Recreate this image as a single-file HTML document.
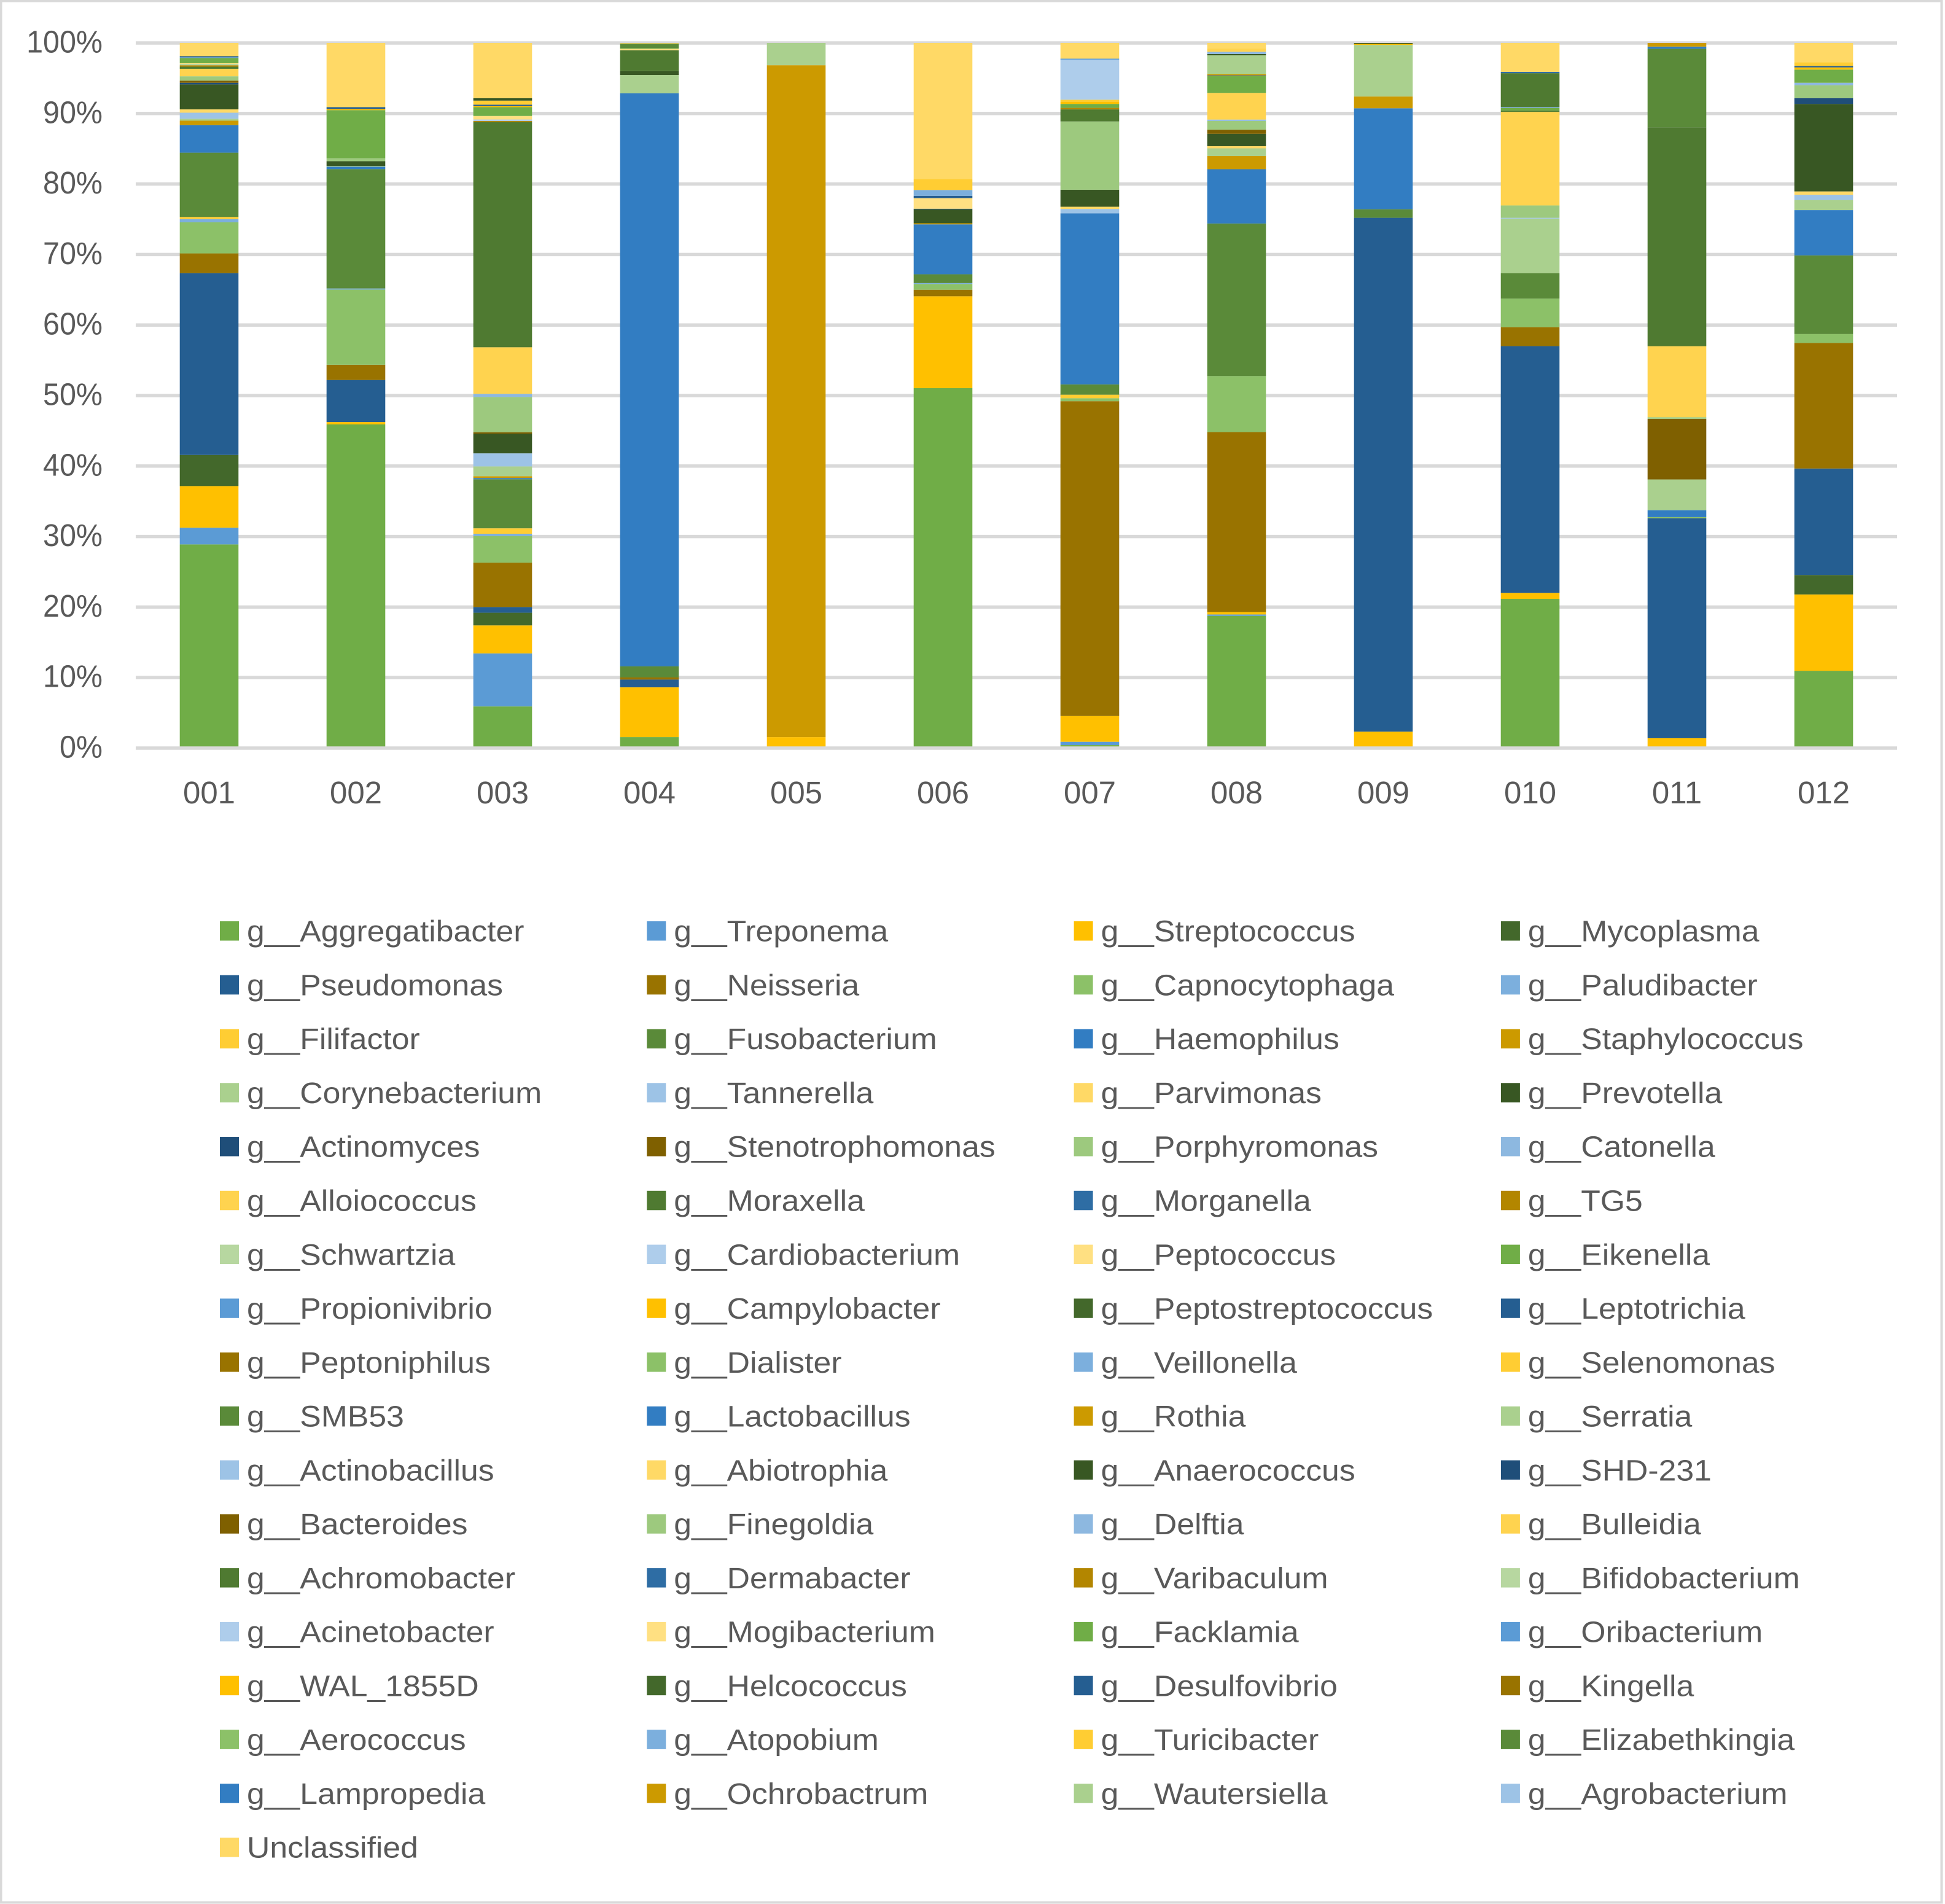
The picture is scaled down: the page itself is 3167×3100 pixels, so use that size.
<!DOCTYPE html>
<html lang="en">
<head>
<meta charset="utf-8">
<title>Genus composition stacked bar chart</title>
<style>
html,body{margin:0;padding:0;background:#fff;}
body{width:3167px;height:3100px;overflow:hidden;}
svg{display:block;}
text{font-family:"Liberation Sans",sans-serif;fill:#595959;}
</style>
</head>
<body>
<svg id="chart" xmlns="http://www.w3.org/2000/svg" width="3167" height="3100" viewBox="0 0 3167 3100">
<rect x="0" y="0" width="3167" height="3100" fill="#ffffff"/>
<rect x="1.5" y="1.5" width="3160" height="3096" fill="none" stroke="#d9d9d9" stroke-width="4"/>
<g id="grid"></g>
<g id="bars"></g>
<g id="axisLine"></g>
<g id="yLabels"></g>
<g id="xLabels"></g>
<g id="legend"></g>
</svg>
<script>
const samples = ["001","002","003","004","005","006","007","008","009","010","011","012"];
const yTicks = [0,10,20,30,40,50,60,70,80,90,100];
const genera = ["g__Aggregatibacter","g__Treponema","g__Streptococcus","g__Mycoplasma","g__Pseudomonas","g__Neisseria","g__Capnocytophaga","g__Paludibacter","g__Filifactor","g__Fusobacterium","g__Haemophilus","g__Staphylococcus","g__Corynebacterium","g__Tannerella","g__Parvimonas","g__Prevotella","g__Actinomyces","g__Stenotrophomonas","g__Porphyromonas","g__Catonella","g__Alloiococcus","g__Moraxella","g__Morganella","g__TG5","g__Schwartzia","g__Cardiobacterium","g__Peptococcus","g__Eikenella","g__Propionivibrio","g__Campylobacter","g__Peptostreptococcus","g__Leptotrichia","g__Peptoniphilus","g__Dialister","g__Veillonella","g__Selenomonas","g__SMB53","g__Lactobacillus","g__Rothia","g__Serratia","g__Actinobacillus","g__Abiotrophia","g__Anaerococcus","g__SHD-231","g__Bacteroides","g__Finegoldia","g__Delftia","g__Bulleidia","g__Achromobacter","g__Dermabacter","g__Varibaculum","g__Bifidobacterium","g__Acinetobacter","g__Mogibacterium","g__Facklamia","g__Oribacterium","g__WAL_1855D","g__Helcococcus","g__Desulfovibrio","g__Kingella","g__Aerococcus","g__Atopobium","g__Turicibacter","g__Elizabethkingia","g__Lampropedia","g__Ochrobactrum","g__Wautersiella","g__Agrobacterium","Unclassified"];
const palette = ["#70AD47","#5B9BD5","#FFC000","#43682B","#255E91","#997300","#8CC168","#7CAFDD","#FFCD33","#5A8A39","#327DC2","#CC9A00","#AAD08E","#9DC3E6","#FFD966","#385723","#1F4E79","#7F6000","#9DC97E","#8DB8E0","#FFD34F","#4F7A31","#2E6DA4","#B38600","#B7D7A0","#AECDEB","#FFE082"];

const vAggregatibacter = [28.84,45.9,5.91,1.56,0,51.05,0.43,18.75,0,21.17,0,10.97];
const vTreponema = [2.36,0,7.52,0,0,0,0.47,0.2,0,0,0,0];
const vStreptococcus = [5.9,0.34,3.97,7.05,1.56,13.03,3.65,0.35,2.33,0.85,1.4,10.82];
const vMycoplasma = [4.4,0,1.8,0,0,0,0,0,0,0,0,2.76];
const vPseudomonas = [25.74,5.96,0.8,1.1,0,0,0,0,72.88,35,31.2,15.1];
const vNeisseria = [2.8,2.16,6.3,0.3,0,0.93,44.67,25.52,0,2.69,0,17.82];
const vCapnocytophaga = [4.4,10.66,3.77,0,0,0.82,0.42,7.94,0,4.05,0.16,1.25];
const vPaludibacter = [0.46,0.16,0.33,0,0,0.12,0,0,0,0,0,0];
const vFilifactor = [0.3,0,0.77,0,0,0,0.5,0,0,0,0,0];
const vFusobacterium = [9.1,16.92,6.96,1.57,0,1.25,1.46,21.64,1.21,3.61,0,11.16];
const vHaemophilus = [3.9,0.35,0.17,81.2,0,7.08,24.28,7.7,14.32,0,0.98,6.42];
const vStaphylococcus = [0.63,0,0.26,0,95.3,0.15,0,1.87,1.67,0,0,0];
const vCorynebacterium = [0.27,0.1,1.39,2.6,3.15,0,0,1.09,7.32,7.75,4.36,1.44];
const vTannerella = [0.86,0,1.85,0,0,0,0.62,0,0,0.1,0,0.74];
const vParvimonas = [0.47,0,0,0,0,0,0.31,0.31,0,0,0,0.47];
const vPrevotella = [3.54,0.68,2.8,0.55,0,1.99,2.41,1.75,0,0,0,12.41];
const vActinomyces = [0.23,0,0,0,0,0.08,0,0,0,0,0,0.82];
const vStenotrophomonas = [0.3,0,0.2,0,0,0,0,0.58,0,0,8.6,0];
const vPorphyromonas = [0.62,0.42,5,0,0,0,9.69,1.25,0,1.76,0.23,1.82];
const vCatonella = [0,0,0.45,0,0,0,0,0.19,0,0,0,0.36];
const vAlloiococcus = [1.06,0,6.6,0,0,0,0,3.78,0,13.27,10.07,0];
const vMoraxella = [0.3,0,31.95,2.95,0,0,1.71,0,0,0.2,31.05,0];
const vMorganella = [0,0,0,0,0,0,0,0,0,0,0,0];
const vTG5 = [0.2,0,0.15,0,0,0,0.22,0,0,0,0,0];
const vSchwartzia = [0.2,0,0,0,0,0,0,0,0,0,0,0];
const vCardiobacterium = [0,0,0.2,0,0,0,0,0,0,0,0,0];
const vPeptococcus = [0.08,0,0.5,0.2,0,1.5,0,0,0,0,0,0];
const vEikenella = [0.75,6.82,1.25,0.1,0,0,0.56,2.38,0,0.35,0,1.87];
const vPropionivibrio = [0.1,0,0,0,0,0,0,0,0,0,0,0];
const vCampylobacter = [0,0.15,0.15,0,0,0,0.31,0,0.15,0,0,0.31];
const vPeptostreptococcus = [0,0,0,0,0,0,0,0,0,0,0,0];
const vLeptotrichia = [0.15,0.27,0.2,0,0,0.33,0,0.1,0,0,0,0.19];
const vPeptoniphilus = [0,0,0,0,0,0,0,0,0,0,0,0];
const vDialister = [0,0,0,0,0,0,0,0,0,0,0,0];
const vVeillonella = [0,0,0,0,0,0.82,0,0,0,0.12,0,0];
const vSelenomonas = [0,0,0.58,0,0,1.55,0.28,0,0,0,0,0.55];
const vSMB53 = [0,0,0,0.65,0,0,0,0,0,0,11.13,0];
const vLactobacillus = [0,0,0,0,0,0,0,0,0,0,0.31,0];
const vRothia = [0,0,0,0,0,0,0,0.16,0,0,0.51,0];
const vSerratia = [0,0,0,0,0,0,0,2.69,0,0,0,0];
const vActinobacillus = [0,0,0,0,0,0,0,0,0,0,0,0];
const vAbiotrophia = [0,0,0,0,0,0,0,0,0,0,0,0];
const vAnaerococcus = [0,0,0.35,0,0,0,0,0.19,0.12,0,0,0];
const vSHD231 = [0,0,0,0,0,0,0,0,0,0,0,0];
const vBacteroides = [0,0,0,0,0,0,0,0,0,0,0,0];
const vFinegoldia = [0,0,0,0,0,0,0,0,0,0,0,0];
const vDelftia = [0,0,0,0,0,0,0,0.31,0,0,0,0];
const vBulleidia = [0,0,0,0,0,0,0,0.47,0,0,0,0];
const vAchromobacter = [0,0,0,0,0,0,0,0,0,4.82,0,0];
const vDermabacter = [0,0,0,0,0,0,0,0,0,0.19,0,0];
const vVaribaculum = [0,0,0,0,0,0,0,0,0,0,0,0];
const vBifidobacterium = [0,0,0,0,0,0,0,0,0,0,0,0];
const vAcinetobacter = [0,0,0,0,0,0,5.68,0,0,0,0,0];
const vMogibacterium = [0,0,0,0,0,0,0,0,0,0,0,0];
const vFacklamia = [0,0,0,0,0,0,0,0,0,0,0,0];
const vOribacterium = [0,0,0,0,0,0,0.15,0,0,0,0,0];
const vWAL1855D = [0,0,0,0,0,0,0,0,0,0,0,0];
const vHelcococcus = [0,0,0,0,0,0,0,0,0,0,0,0];
const vDesulfovibrio = [0,0,0,0,0,0,0,0,0,0,0,0];
const vKingella = [0,0,0,0,0,0,0,0,0,0,0,0];
const vAerococcus = [0,0,0,0,0,0,0,0,0,0,0,0];
const vAtopobium = [0,0,0,0,0,0,0,0,0,0,0,0];
const vTuricibacter = [0,0,0,0,0,0,0,0,0,0,0,0];
const vElizabethkingia = [0,0,0,0,0,0,0,0,0,0,0,0];
const vLampropedia = [0,0,0,0,0,0,0,0,0,0,0,0];
const vOchrobactrum = [0,0,0,0,0,0,0,0,0,0,0,0];
const vWautersiella = [0,0,0,0,0,0,0,0,0,0,0,0];
const vAgrobacterium = [0,0,0,0,0,0,0,0,0,0,0,0];
const vUnclassified = [1.87,9.1,7.82,0.08,0,19.3,2.22,0.78,0,4.09,0,2.72];

const seriesValues = [vAggregatibacter,vTreponema,vStreptococcus,vMycoplasma,vPseudomonas,vNeisseria,vCapnocytophaga,vPaludibacter,vFilifactor,vFusobacterium,vHaemophilus,vStaphylococcus,vCorynebacterium,vTannerella,vParvimonas,vPrevotella,vActinomyces,vStenotrophomonas,vPorphyromonas,vCatonella,vAlloiococcus,vMoraxella,vMorganella,vTG5,vSchwartzia,vCardiobacterium,vPeptococcus,vEikenella,vPropionivibrio,vCampylobacter,vPeptostreptococcus,vLeptotrichia,vPeptoniphilus,vDialister,vVeillonella,vSelenomonas,vSMB53,vLactobacillus,vRothia,vSerratia,vActinobacillus,vAbiotrophia,vAnaerococcus,vSHD231,vBacteroides,vFinegoldia,vDelftia,vBulleidia,vAchromobacter,vDermabacter,vVaribaculum,vBifidobacterium,vAcinetobacter,vMogibacterium,vFacklamia,vOribacterium,vWAL1855D,vHelcococcus,vDesulfovibrio,vKingella,vAerococcus,vAtopobium,vTuricibacter,vElizabethkingia,vLampropedia,vOchrobactrum,vWautersiella,vAgrobacterium,vUnclassified];

const NS = "http://www.w3.org/2000/svg";
const plotLeft = 221, plotRight = 3089, plotTop = 70, plotBottom = 1218;
function yScale(pct){ return plotBottom - (plotBottom - plotTop) * pct / 100; }
const bandWidth = (plotRight - plotLeft) / samples.length;
function xCenter(i){ return plotLeft + bandWidth * (i + 0.5); }
const barWidth = bandWidth / 2.5;
function make(tag, attrs, parent){
  const el = document.createElementNS(NS, tag);
  Object.keys(attrs).forEach(function(k){ el.setAttribute(k, attrs[k]); });
  parent.appendChild(el);
  return el;
}

const gridGroup = document.getElementById("grid");
const axisGroup = document.getElementById("axisLine");
const yGroup = document.getElementById("yLabels");
yTicks.forEach(function(t){
  const line = make("rect", {x: plotLeft, y: yScale(t) - 2.75, width: plotRight - plotLeft, height: 5.5, fill: "#d9d9d9"}, t === 0 ? axisGroup : gridGroup);
  
  
  const label = make("text", {transform: "translate(167," + (yScale(t) + 15.5) + ") scale(0.95,1)", "text-anchor": "end", "font-size": 51}, yGroup);
  label.textContent = t + "%";
  
  
});

const barGroup = document.getElementById("bars");
const xGroup = document.getElementById("xLabels");
samples.forEach(function(name, i){
  const total = seriesValues.reduce(function(s, row){ return s + row[i]; }, 0);
  let cum = 0;
  const col = make("g", {}, barGroup);
  
  
  seriesValues.forEach(function(row, s){
    const v = row[i];
    if (v <= 0) return;
    const lo = cum / total * 100;
    cum += v;
    const hi = cum / total * 100;
    const seg = make("rect", {x: xCenter(i) - barWidth / 2, y: yScale(hi), width: barWidth, height: yScale(lo) - yScale(hi), fill: palette[s % palette.length]}, col);
    
    
  });
  const label = make("text", {x: xCenter(i), y: 1308, "text-anchor": "middle", "font-size": 51}, xGroup);
  label.textContent = name;
  
  
});

const legendGroup = document.getElementById("legend");
const legendColumns = 4;
const legendLeft = 358, legendColumnStep = 695.3, legendTop = 1500, legendRowStep = 87.76;
genera.forEach(function(name, s){
  const c = s % legendColumns, r = Math.floor(s / legendColumns);
  const lx = legendLeft + c * legendColumnStep, ly = legendTop + r * legendRowStep;
  const entry = make("g", {}, legendGroup);
  
  
  const swatch = make("rect", {x: lx, y: ly, width: 31, height: 31.5, fill: palette[s % palette.length]}, entry);
  
  
  const label = make("text", {transform: "translate(" + (lx + 44) + "," + (ly + 32.7) + ") scale(1.078,1)", "font-size": 48}, entry);
  label.textContent = name;
  
  
});
</script>
</body>
</html>
